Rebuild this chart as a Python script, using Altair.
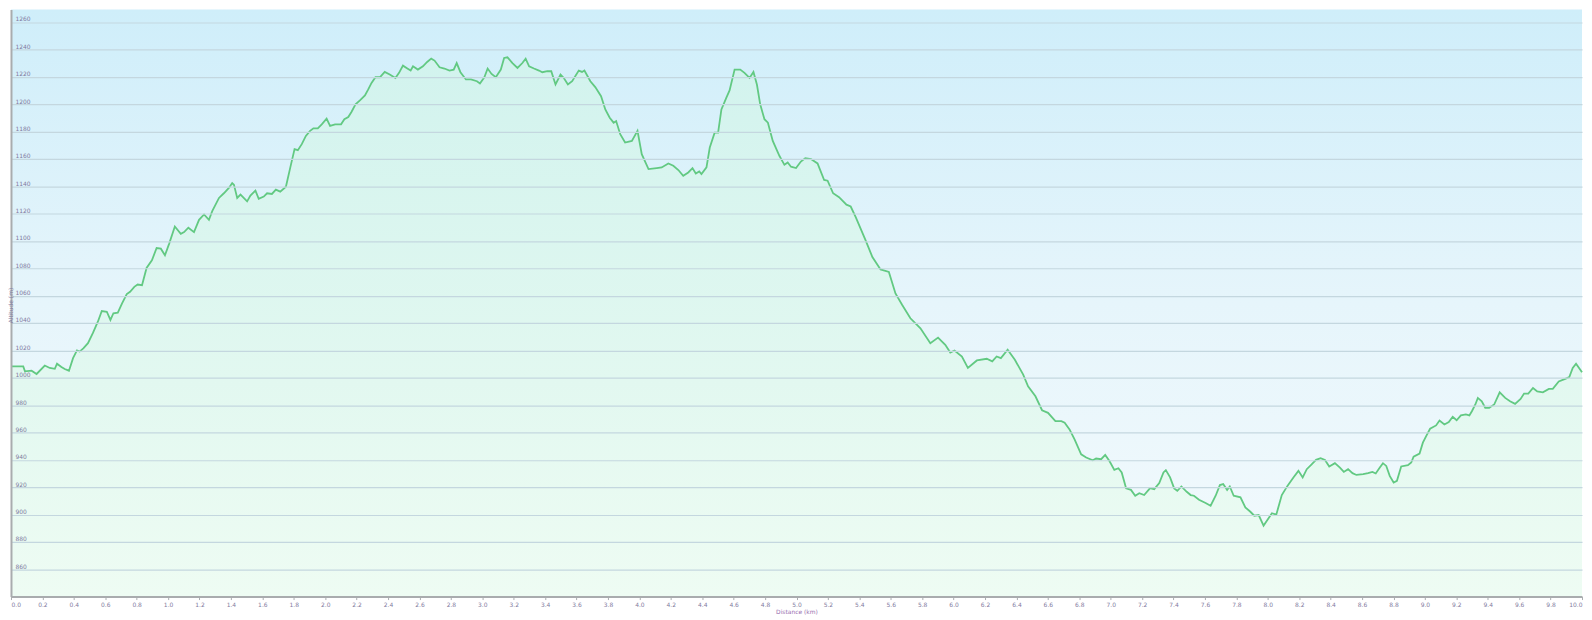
import altair as alt
import pandas as pd

# distance along the route (km)
km = [0.000,0.078,0.089,0.131,0.163,0.215,0.247,0.279,0.293,0.321,0.342,0.369,0.395,0.420,0.437,0.462,0.490,0.521,0.553,0.578,0.610,0.633,0.652,0.680,0.707,0.737,0.758,0.785,0.806,0.834,0.863,0.897,0.927,0.954,0.980,1.007,1.043,1.081,1.102,1.129,1.165,1.197,1.229,1.260,1.281,1.324,1.355,1.387,1.408,1.419,1.440,1.461,1.503,1.524,1.556,1.577,1.609,1.630,1.661,1.686,1.714,
      1.750,1.778,1.805,1.826,1.851,1.877,1.904,1.925,1.953,1.978,2.009,2.031,2.063,2.101,2.122,2.147,2.168,2.193,2.221,2.253,2.274,2.295,2.320,2.348,2.379,2.411,2.447,2.470,2.495,2.523,2.544,2.559,2.590,2.622,2.649,2.675,2.696,2.728,2.759,2.791,2.818,2.837,2.861,2.896,2.928,2.966,2.985,3.013,3.034,3.059,3.086,3.118,3.139,3.160,3.192,3.224,3.255,3.276,3.298,3.329,3.361,3.382,3.414,
      3.439,3.466,3.498,3.519,3.545,3.572,3.614,3.635,3.650,3.688,3.719,3.756,3.783,3.811,3.836,3.852,3.878,3.909,3.952,3.988,4.015,4.058,4.110,4.142,4.184,4.216,4.248,4.279,4.311,4.338,4.359,4.381,4.395,4.427,4.448,4.479,4.501,4.522,4.553,4.574,4.606,4.642,4.669,4.701,4.726,4.748,4.769,4.796,4.818,4.849,4.891,4.923,4.944,4.965,4.997,5.028,5.056,5.092,5.134,
      5.176,5.198,5.233,5.271,5.318,5.345,5.377,5.440,5.483,5.535,5.588,5.630,5.673,5.725,5.789,5.852,5.901,5.947,5.979,6.006,6.053,6.091,6.148,6.211,6.246,6.274,6.301,6.344,6.390,6.443,6.474,6.521,6.563,6.601,6.648,6.686,
      6.707,6.738,6.770,6.812,6.844,6.886,6.907,6.939,6.965,6.992,7.023,7.049,7.070,7.098,7.129,7.156,7.182,7.213,7.251,7.277,7.309,7.336,7.351,7.378,7.404,7.424,7.450,7.484,7.509,7.530,7.562,7.604,7.636,7.668,7.695,7.716,7.741,7.758,7.783,7.826,7.857,7.889,7.914,7.942,7.973,7.994,8.026,8.054,8.089,8.125,8.163,8.195,8.222,8.248,8.279,8.307,8.336,8.364,8.391,8.427,8.459,8.484,
      8.511,8.539,8.564,8.607,8.638,8.666,8.687,8.713,8.733,8.754,8.776,8.801,8.822,8.849,8.892,8.913,8.928,8.966,8.987,9.008,9.033,9.071,9.093,9.124,9.152,9.177,9.202,9.229,9.261,9.283,9.299,9.321,9.337,9.362,9.384,9.409,9.441,9.476,9.511,9.542,9.574,9.609,9.631,9.658,9.688,9.715,9.751,9.789,9.814,9.852,9.893,9.919,9.941,9.962,9.989,10.000]

# altitude (m)
altitude = [1008.2,1008.2,1004.6,1005.1,1002.7,1008.9,1007.1,1006.5,1010.2,1007.8,1006.3,1005.1,1014.3,1019.9,1019.1,1021.6,1025.2,1032.5,1040.9,1048.7,1048.2,1042.2,1047.1,1047.5,1054.3,1061.1,1062.8,1066.4,1068.1,1067.6,1080.2,1085.8,1094.8,1094.3,1089.5,1098.0,1110.5,1105.2,1106.4,1109.6,1106.4,1115.4,1119.3,1115.4,1121.7,1131.4,1134.8,1138.7,1142.3,1141.1,1131.4,1133.8,1128.9,1133.1,1136.7,1130.7,1132.4,1134.8,1134.3,1137.5,1136.0,
            1139.6,1153.7,1167.1,1166.3,1170.7,1176.7,1180.4,1182.3,1182.3,1185.2,1189.3,1184.0,1185.2,1185.2,1188.9,1190.5,1194.4,1199.8,1202.7,1206.3,1210.7,1215.5,1219.6,1219.6,1223.5,1221.6,1219.1,1222.8,1228.1,1226.0,1224.5,1227.6,1225.2,1227.6,1230.8,1233.2,1231.8,1226.9,1226.0,1224.5,1225.2,1230.0,1223.3,1218.0,1218.0,1216.7,1215.1,1219.6,1226.0,1222.0,1219.6,1225.2,1233.7,1234.2,1230.0,1226.4,1230.0,1233.2,1227.6,1226.0,1224.5,1223.3,1224.0,
            1224.0,1214.3,1221.6,1219.1,1214.3,1216.7,1224.5,1223.5,1224.5,1216.7,1212.4,1205.8,1196.1,1190.0,1186.4,1187.6,1178.0,1171.9,1173.1,1180.4,1163.4,1152.5,1153.2,1153.7,1156.6,1154.9,1151.8,1147.6,1150.0,1153.2,1149.3,1150.8,1148.9,1153.7,1168.2,1179.1,1179.1,1196.1,1204.6,1210.0,1225.2,1225.2,1222.8,1219.1,1223.5,1214.3,1199.8,1188.9,1186.4,1173.1,1162.2,1155.6,1157.3,1154.2,1153.2,1158.0,1160.5,1159.8,1156.6,
            1144.5,1144.0,1134.8,1131.9,1126.5,1125.1,1117.3,1100.4,1088.2,1079.1,1077.3,1061.6,1053.1,1043.4,1036.1,1025.2,1029.3,1024.0,1018.4,1019.9,1015.5,1007.1,1012.6,1013.8,1011.9,1015.5,1014.3,1020.4,1013.1,1002.2,993.7,986.4,976.2,974.3,968.2,968.2,
            967.1,962.2,954.9,944.0,941.6,939.6,940.9,940.4,943.5,939.1,932.6,933.8,930.7,919.1,918.0,913.7,915.6,914.2,919.3,918.5,922.9,930.7,932.4,927.1,919.1,917.3,920.5,916.6,914.2,913.7,910.8,908.4,906.4,913.7,921.5,922.2,918.0,920.5,913.7,912.5,905.2,902.0,899.1,899.6,891.9,895.5,900.9,899.9,914.2,920.9,927.1,931.9,927.1,933.1,936.7,939.9,941.1,939.9,935.1,937.5,934.3,931.1,
            933.1,930.2,928.9,929.5,930.2,931.1,930.0,934.3,937.5,935.5,928.2,923.4,924.6,935.1,936.0,938.0,942.3,944.5,952.5,957.3,962.7,965.1,968.7,965.8,967.5,971.4,968.9,972.4,973.1,972.4,975.5,980.4,985.2,982.8,978.0,978.0,980.4,989.3,985.2,982.8,980.9,984.5,988.4,988.4,992.5,990.0,989.3,991.8,991.8,997.3,999.1,1000.5,1007.1,1010.2,1005.8,1003.9]

x_ticks = [0.0,0.2,0.4,0.6,0.8,1.0,1.2,1.4,1.6,1.8,2.0,2.2,2.4,2.6,2.8,3.0,3.2,3.4,3.6,3.8,4.0,4.2,4.4,4.6,4.8,5.0,
           5.2,5.4,5.6,5.8,6.0,6.2,6.4,6.6,6.8,7.0,7.2,7.4,7.6,7.8,8.0,8.2,8.4,8.6,8.8,9.0,9.2,9.4,9.6,9.8,10.0]
y_ticks = [860,880,900,920,940,960,980,1000,1020,1040,1060,1080,1100,1120,1140,1160,1180,1200,1220,1240,1260]

W, H = 1579, 590
df = pd.DataFrame({"km": km, "alt": altitude})

label_col = "#7f7a9e"
axis_col = "#a9acae"

x_enc = alt.X("km:Q",
              scale=alt.Scale(domain=[0, 10], nice=False, zero=False),
              axis=alt.Axis(values=x_ticks, format=".1f", title="Distance (km)", grid=False,
                            tickCount=80, labelOverlap=False, labelSeparation=0,
                            domainColor=axis_col, domainWidth=2, tickColor=axis_col, tickSize=3,
                            labelFontSize=6, labelColor=label_col, labelPadding=2, labelFlush=True,
                            labelFont="DejaVu Sans", titleFont="DejaVu Sans",
                            titleFontSize=6, titleColor="#9a6fb0", titleFontWeight="normal",
                            titlePadding=1, zindex=1))
y_enc = alt.Y("alt:Q",
              scale=alt.Scale(domain=[840, 1269.1], nice=False, zero=False),
              axis=alt.Axis(values=y_ticks, format="d", title="Altitude (m)", grid=True,
                            tickCount=40, labelOverlap=False,
                            gridColor="#c4d7df", gridWidth=1.2,
                            domainColor=axis_col, domainWidth=2, ticks=False,
                            labelAlign="left", labelBaseline="bottom", labelPadding=-4,
                            labelFontSize=6, labelColor=label_col, labelFont="DejaVu Sans",
                            titleFont="DejaVu Sans", titleFontSize=6, titleColor=label_col,
                            titleFontWeight="normal", titleAngle=270, titleX=-0.5, titleY=297,
                            titleAlign="center", titleBaseline="middle", zindex=1))

bg_grad = alt.LinearGradient(gradient="linear", x1=0, x2=0, y1=0, y2=1,
                             stops=[alt.GradientStop(color="#cfeefa", offset=0),
                                    alt.GradientStop(color="#e6f5fb", offset=0.5),
                                    alt.GradientStop(color="#f3fafd", offset=1)])
area_grad = alt.LinearGradient(gradient="linear", x1=0, x2=0, y1=0, y2=1,
                               stops=[alt.GradientStop(color="#d2f3ee", offset=0),
                                      alt.GradientStop(color="#e2f8f0", offset=0.6),
                                      alt.GradientStop(color="#eefcf3", offset=1)])

bg = alt.Chart(pd.DataFrame({"v": [0]})).mark_rect(fill=bg_grad, strokeWidth=0).encode(
    x=alt.value(0), x2=alt.value(W), y=alt.value(0), y2=alt.value(H))

area = alt.Chart(df).mark_area(fill=area_grad, interpolate="linear").encode(
    x=x_enc, y=y_enc, y2=alt.datum(840))

line = alt.Chart(df).mark_line(color="#62c982", strokeWidth=1.8, interpolate="linear").encode(
    x=x_enc, y=y_enc)

chart = alt.layer(bg, area, line).properties(
    width=W, height=H,
    autosize=alt.AutoSizeParams(type="none"),
    padding={"left": 3, "top": 0, "right": 2, "bottom": 22},
    background="white",
).configure_view(stroke=None).configure_axis(labelOverlap=False, labelSeparation=0)

chart.save("out.html", embed_options={"renderer": "svg", "actions": False})
